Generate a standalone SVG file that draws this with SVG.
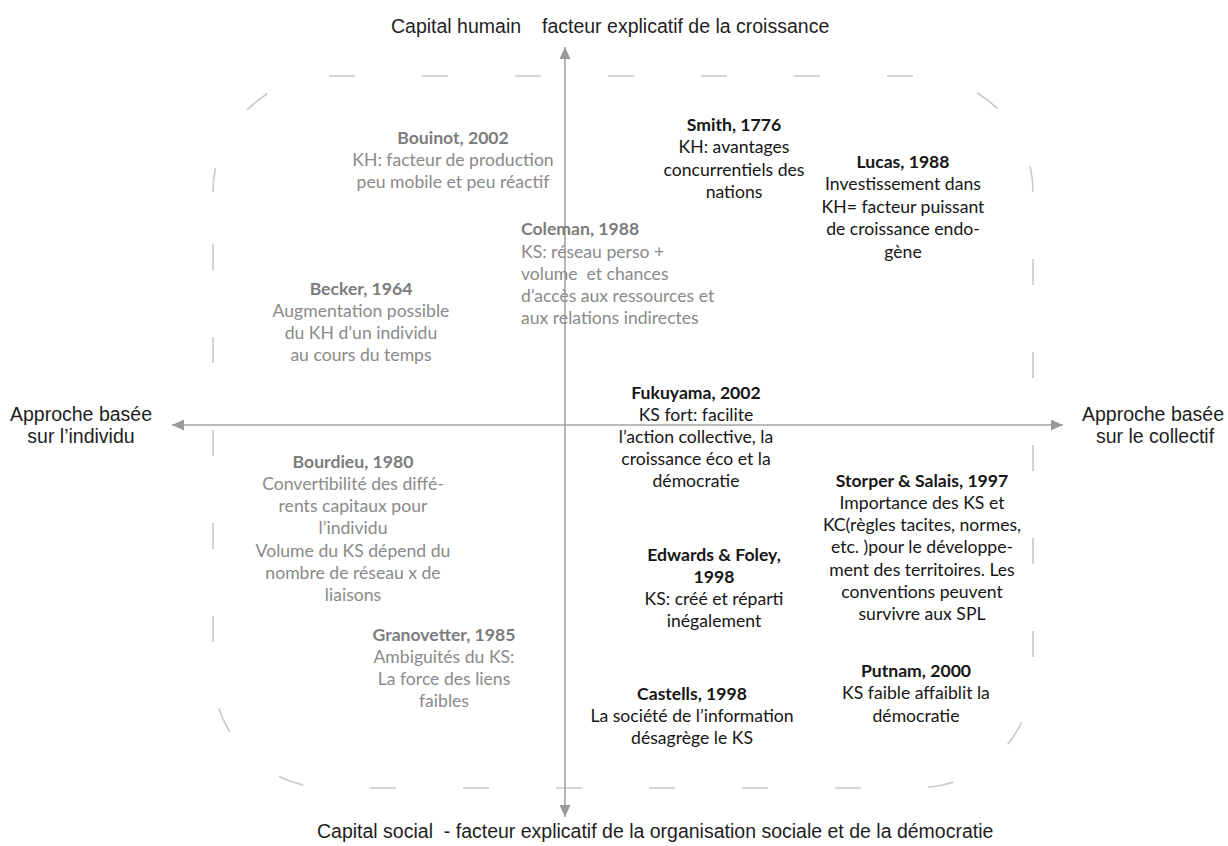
<svg xmlns="http://www.w3.org/2000/svg" width="1228" height="846" viewBox="0 0 1228 846">
  <style>
    .axis { stroke: #a3a3a3; stroke-width: 1.6; fill: none; }
    .frame { fill: none; stroke: #c9c9c9; stroke-width: 1.6; }
    .frame-main { stroke-dasharray: 26 67; }
    .frame-corner { stroke-dasharray: 24 67 26 300; }
    .lbl { font-family: "Liberation Sans", Arial, sans-serif; font-size: 19.5px; fill: #1e1e1e; white-space: pre; }
    .t { font-family: Lato, "Open Sans", sans-serif; font-size: 17.6px; text-anchor: middle; }
    .t .h { font-weight: bold; }
    .grey { fill: #8a8a8a; }
    .grey .h { fill: #7c7c7c; }
    .dark { fill: #161616; }
    .left { text-anchor: start; }
  </style>
  <defs>
    <marker id="tip" viewBox="0 0 12 11" markerWidth="12" markerHeight="11" refX="12" refY="5.5" orient="auto-start-reverse" markerUnits="userSpaceOnUse">
      <path d="M0,0 L12,5.5 L0,11 z" fill="#9a9a9a"/>
    </marker>
  </defs>
  <rect width="1228" height="846" fill="#ffffff"/>

  <!-- dashed rounded frame around the four quadrants -->
  <g id="frame">
    <path class="frame frame-main" d="M329,76 H917 A116,116 0 0 1 1033,192 V672 A116,116 0 0 1 917,788 H329 A116,116 0 0 1 213,672 V192"/>
    <path class="frame frame-corner" d="M213,192 A116,116 0 0 1 329,76"/>
  </g>

  <!-- axes -->
  <g id="connectors">
    <line class="axis" x1="565" y1="817" x2="565" y2="47" marker-start="url(#tip)" marker-end="url(#tip)"/>
    <line class="axis" x1="172" y1="425" x2="1063" y2="425" marker-start="url(#tip)" marker-end="url(#tip)"/>
  </g>

  <!-- axis labels -->
  <g id="axis-top">
    <text class="lbl" y="33"><tspan x="391">Capital humain</tspan><tspan x="542">facteur explicatif de la croissance</tspan></text>
  </g>
  <g id="axis-bottom">
    <text class="lbl" x="317" y="838">Capital social  - facteur explicatif de la organisation sociale et de la démocratie</text>
  </g>
  <g id="axis-left">
    <text class="lbl" text-anchor="middle" x="81" y="421">Approche basée</text>
    <text class="lbl" text-anchor="middle" x="81" y="443">sur l’individu</text>
  </g>
  <g id="axis-right">
    <text class="lbl" text-anchor="middle" x="1153" y="421">Approche basée</text>
    <text class="lbl" text-anchor="middle" x="1155" y="443">sur le collectif</text>
  </g>

  <!-- upper left quadrant -->
  <g id="bouinot">
    <text class="t grey"><tspan class="h" x="453" y="144">Bouinot, 2002</tspan><tspan x="453" y="166">KH: facteur de production</tspan><tspan x="453" y="188">peu mobile et peu réactif</tspan></text>
  </g>
  <g id="becker">
    <text class="t grey"><tspan class="h" x="361" y="295">Becker, 1964</tspan><tspan x="361" y="317">Augmentation possible</tspan><tspan x="361" y="339">du KH d’un individu</tspan><tspan x="361" y="361">au cours du temps</tspan></text>
  </g>
  <g id="coleman">
    <text class="t grey left" style="white-space: pre"><tspan class="h" x="521" y="235">Coleman, 1988</tspan><tspan x="521" y="258">KS: réseau perso +</tspan><tspan x="521" y="280">volume  et chances</tspan><tspan x="521" y="302">d’accès aux ressources et</tspan><tspan x="521" y="324">aux relations indirectes</tspan></text>
  </g>

  <!-- upper right quadrant -->
  <g id="smith">
    <text class="t dark"><tspan class="h" x="734" y="131">Smith, 1776</tspan><tspan x="734" y="153">KH: avantages</tspan><tspan x="734" y="176">concurrentiels des</tspan><tspan x="734" y="198">nations</tspan></text>
  </g>
  <g id="lucas">
    <text class="t dark"><tspan class="h" x="903" y="168">Lucas, 1988</tspan><tspan x="903" y="190">Investissement dans</tspan><tspan x="903" y="213">KH= facteur puissant</tspan><tspan x="903" y="235">de croissance endo-</tspan><tspan x="903" y="258">gène</tspan></text>
  </g>
  <g id="fukuyama">
    <text class="t dark"><tspan class="h" x="696" y="399">Fukuyama, 2002</tspan><tspan x="696" y="421">KS fort: facilite</tspan><tspan x="696" y="443">l’action collective, la</tspan><tspan x="696" y="465">croissance éco et la</tspan><tspan x="696" y="487">démocratie</tspan></text>
  </g>

  <!-- lower left quadrant -->
  <g id="bourdieu">
    <text class="t grey"><tspan class="h" x="353" y="468">Bourdieu, 1980</tspan><tspan x="353" y="490">Convertibilité des diffé-</tspan><tspan x="353" y="512">rents capitaux pour</tspan><tspan x="353" y="534">l’individu</tspan><tspan x="353" y="557">Volume du KS dépend du</tspan><tspan x="353" y="579">nombre de réseau x de</tspan><tspan x="353" y="601">liaisons</tspan></text>
  </g>
  <g id="granovetter">
    <text class="t grey"><tspan class="h" x="444" y="641">Granovetter, 1985</tspan><tspan x="444" y="663">Ambiguités du KS:</tspan><tspan x="444" y="685">La force des liens</tspan><tspan x="444" y="707">faibles</tspan></text>
  </g>

  <!-- lower right quadrant -->
  <g id="storper-salais">
    <text class="t dark"><tspan class="h" x="922" y="487">Storper &amp; Salais, 1997</tspan><tspan x="922" y="509">Importance des KS et</tspan><tspan x="922" y="531">KC(règles tacites, normes,</tspan><tspan x="922" y="553">etc. )pour le développe-</tspan><tspan x="922" y="576">ment des territoires. Les</tspan><tspan x="922" y="598">conventions peuvent</tspan><tspan x="922" y="620">survivre aux SPL</tspan></text>
  </g>
  <g id="edwards-foley">
    <text class="t dark"><tspan class="h" x="714" y="561">Edwards &amp; Foley,</tspan><tspan class="h" x="714" y="583">1998</tspan><tspan x="714" y="605">KS: créé et réparti</tspan><tspan x="714" y="627">inégalement</tspan></text>
  </g>
  <g id="putnam">
    <text class="t dark"><tspan class="h" x="916" y="677">Putnam, 2000</tspan><tspan x="916" y="699">KS faible affaiblit la</tspan><tspan x="916" y="722">démocratie</tspan></text>
  </g>
  <g id="castells">
    <text class="t dark"><tspan class="h" x="692" y="700">Castells, 1998</tspan><tspan x="692" y="722">La société de l’information</tspan><tspan x="692" y="744">désagrège le KS</tspan></text>
  </g>
</svg>
